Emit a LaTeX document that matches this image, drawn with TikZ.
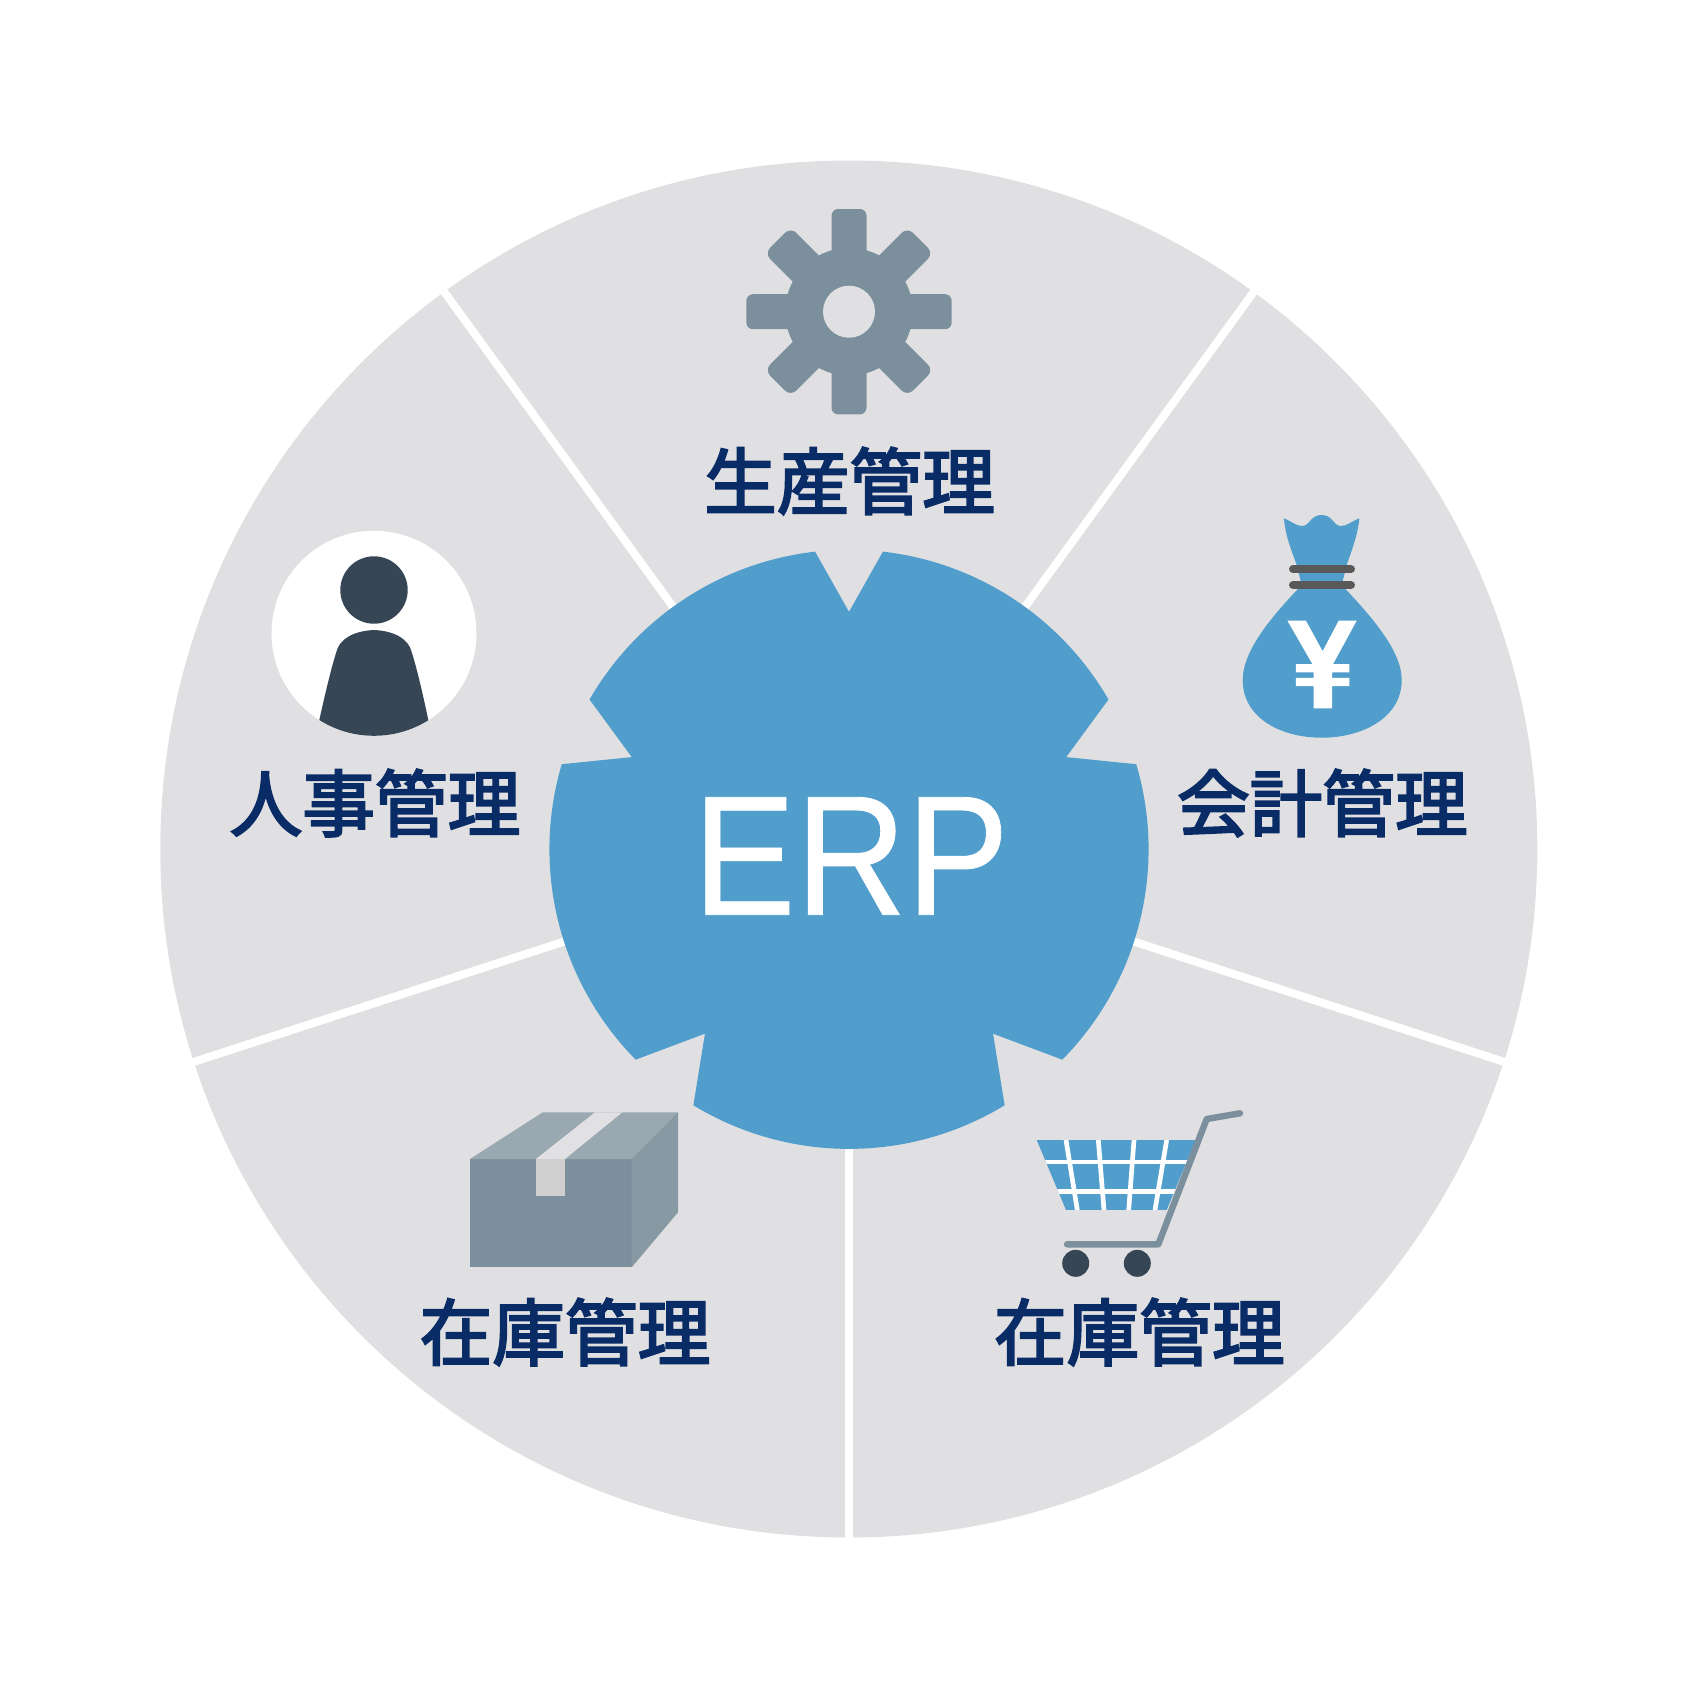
\documentclass[tikz,border=0pt]{standalone}
\usepackage{fontspec}
\setmainfont{TeX Gyre Heros}
\newfontfamily\cjk[FakeBold=3]{Noto Sans CJK JP}
\newfontfamily\hubfont[FakeBold=0.5]{Liberation Sans}
\newfontfamily\yenfont[BoldFeatures={FakeBold=1}]{TeX Gyre Heros}
\usetikzlibrary{positioning}
\definecolor{sectorgray}{HTML}{E0E0E2}
\definecolor{hubblue}{HTML}{519DCC}
\definecolor{slate}{HTML}{7B909C}
\definecolor{darkslate}{HTML}{364655}
\definecolor{labelblue}{HTML}{0A2C66}
\tikzset{
    modlabel/.style={text=labelblue, font=\cjk\fontsize{54.5}{60}\selectfont, inner sep=0pt},
    spoke/.style={white, line width=6pt},
    handle/.style={slate, line width=4.8pt, line cap=round, line join=round},
    band/.style={black!65, line width=6pt, line cap=round},
}

\begin{document}
\begin{tikzpicture}[x=0.75pt,y=0.75pt,yscale=-1,xscale=1]
\useasboundingbox (0,0) rectangle (1699,1699);
\fill[white] (0,0) rectangle (1699,1699);
%Sectors
\fill[sectorgray] (848.8,849) circle (688.5);
\foreach \ang in {-126,-54,18,90,162}
    \draw[spoke] (849,849) -- ++(\ang:700);
%Hub
\begin{scope}[shift={(849,849.3)}]
\fill[hubblue] (-83.5:299.6) arc[start angle=-83.5, end angle=-30, radius=299.6]
    -- (-23:236) -- (-16.5:299.6) arc[start angle=-16.5, end angle=44.6, radius=299.6]
    -- (52:234) -- (58.7:299.6) arc[start angle=58.7, end angle=121.3, radius=299.6]
    -- (128:234) -- (135.4:299.6) arc[start angle=135.4, end angle=196.5, radius=299.6]
    -- (203:236) -- (210:299.6) arc[start angle=210, end angle=263.5, radius=299.6]
    -- (-90:237.5) -- cycle;
\end{scope}
\node[white, inner sep=0pt, xscale=0.9, font=\hubfont\fontsize{128}{134}\selectfont] (hub) at (851,856) {ERP};
%Gear
\begin{scope}[shift={(849,311.7)}]
\foreach \ang in {0,90}
    \fill[slate, rotate=\ang, rounded corners=5pt] (-102.7,-17.5) rectangle (102.7,17.5);
\foreach \ang in {45,135}
    \fill[slate, rotate=\ang, rounded corners=6pt] (-101,-18.5) rectangle (101,18.5);
\fill[slate] (0,0) circle (63.8);
\fill[sectorgray] (0,0) circle (26);
\end{scope}
%Money bag
\fill[hubblue] (1284,518.3) .. controls (1291,521) and (1296,526) .. (1302,526)
    .. controls (1310,526) and (1310,515) .. (1321.7,515)
    .. controls (1333,515) and (1333,526) .. (1341,526)
    .. controls (1347,526) and (1352,521) .. (1359.3,518.3)
    .. controls (1358,535) and (1351,552) .. (1346.7,565) -- (1341.7,585)
    .. controls (1370,615) and (1401.7,650) .. (1401.7,680)
    .. controls (1401.7,718) and (1362,737.7) .. (1321.7,737.7)
    .. controls (1281,737.7) and (1242.7,718) .. (1242.7,680)
    .. controls (1242.7,650) and (1273,615) .. (1301.7,585) -- (1296.7,565)
    .. controls (1292,552) and (1285,535) .. (1284,518.3) -- cycle;
\draw[band] (1293,569) -- (1351,569);
\draw[band] (1293,585) -- (1351,585);
\node[white, inner sep=0pt, font=\yenfont\bfseries\fontsize{92}{94}\selectfont] (yen) at (1322,664.5) {¥};
%Person
\fill[white] (374,633.3) circle (102.5);
\begin{scope}
\clip (374,633.3) circle (102.5);
\fill[darkslate] (374,630) .. controls (352,631) and (340,640) .. (337,650)
    .. controls (332,665) and (326,690) .. (319.3,720) -- (319.3,740) -- (428.3,740) -- (428.3,720)
    .. controls (422,690) and (416,665) .. (411,650) .. controls (408,640) and (396,631) .. (374,630) -- cycle;
\end{scope}
\fill[darkslate] (374,590) circle (33.7);
%Box
\fill[slate] (470,1159) rectangle (631.7,1267.3);
\fill[slate!70!sectorgray] (470,1159) -- (542.7,1112.3) -- (678,1112.3) -- (631.7,1159) -- cycle;
\fill[slate!88!sectorgray] (631.7,1159) -- (678,1112.3) -- (678,1212.3) -- (631.7,1267.3) -- cycle;
\fill[sectorgray!98!white] (536,1159) -- (595,1112.3) -- (622.3,1112.3) -- (565,1159) -- cycle;
\fill[black!19] (536,1159) rectangle (565,1195.7);
%Cart
\begin{scope}
\clip (1036.7,1140) -- (1195.7,1140) -- (1166.7,1210) -- (1066,1210) -- cycle;
\fill[hubblue] (1036,1140) rectangle (1197,1210);
\foreach \yline in {1162,1191.7}
    \draw[white, line width=3.5pt] (1036,\yline) -- (1197,\yline);
\foreach \xtop/\xbot in {1066/1077.3,1098.3/1104,1134/1128.7,1166.7/1155}
    \draw[white, line width=3.5pt] (\xtop,1140) -- (\xbot,1210);
\end{scope}
\draw[handle] (1067,1244.3) -- (1158.3,1244.3) -- (1206.7,1119) -- (1240,1113.3);
\fill[darkslate] (1075.7,1263.3) circle (13.5);
\fill[darkslate] (1137.3,1263.3) circle (13.5);
%Labels
\node[modlabel] (prod) at (849.5,481) {生産管理};
\node[modlabel] (acct) at (1322.4,803) {会計管理};
\node[modlabel] (hr) at (375,803) {人事管理};
\node[modlabel] (stockl) at (565,1332) {在庫管理};
\node[modlabel] (stockr) at (1139.3,1332) {在庫管理};
\end{tikzpicture}
\end{document}
